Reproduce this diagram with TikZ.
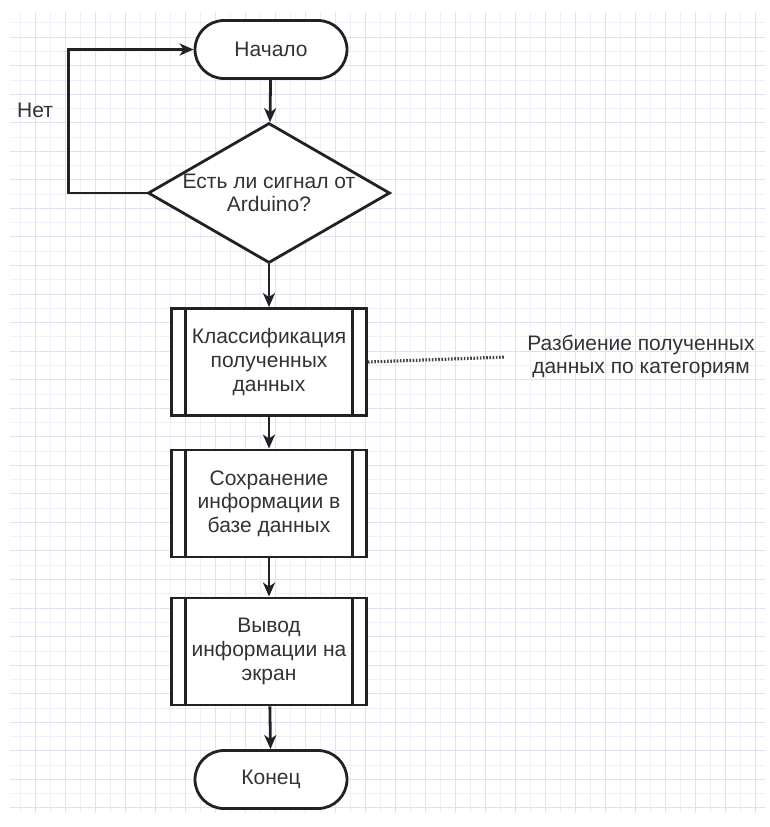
\documentclass[tikz,border=0pt]{standalone}
\usepackage{fontspec}
\setmainfont{Liberation Sans}
\usepackage{xcolor}
\usepackage{tikz}
\usetikzlibrary{arrows.meta,shapes.geometric}
\definecolor{ink}{HTML}{222222}
\definecolor{txt}{HTML}{333333}
\definecolor{gridc}{HTML}{E0E2F0}
\definecolor{gridf}{HTML}{EEEFF7}
\tikzset{
  base/.style={draw=ink,line width=1.4pt,fill=white,text=txt,align=center,font=\fontsize{10.5pt}{11.8pt}\selectfont},
  term/.style={base,rectangle,rounded corners=14.5pt,minimum width=76pt,minimum height=29pt},
  dec/.style={base,diamond,inner sep=0pt,minimum width=121pt,minimum height=70pt},
  proc/.style={base,rectangle,minimum width=97.5pt,minimum height=53.5pt,inner sep=1pt},
  arr/.style={draw=ink,line width=1.4pt,-{Stealth[length=7pt,width=6pt,inset=2pt]}},
  ins/.style={draw=ink,line width=1.4pt},
  dots/.style={draw=ink!85,line width=1.6pt,dash pattern=on 0.8pt off 0.8pt,shorten >=8pt},
  lbl/.style={text=txt,align=center,font=\fontsize{10.5pt}{11.8pt}\selectfont},
  gmaj/.style={draw=gridc,line width=0.5pt},
  gmin/.style={draw=gridf,line width=0.4pt}
}
\newcommand{\sidebars}[1]{%
  \draw[ins] ([xshift=7.75pt]#1.north west) -- ([xshift=7.75pt]#1.south west);
  \draw[ins] ([xshift=-7.75pt]#1.north east) -- ([xshift=-7.75pt]#1.south east);}

\begin{document}
\begin{tikzpicture}[x=0.5pt,y=-0.5pt]
\useasboundingbox (0,0) rectangle (770,827);
% grid paper
\begin{scope}
\clip (10,12) rectangle (765,812);
\foreach \gx in {20,50,...,770} \draw[gmin] (\gx,0) -- (\gx,827);
\foreach \k in {0,...,28} \draw[gmin] (0,{22.8+28.55*\k}) -- (770,{22.8+28.55*\k});
\foreach \gx in {5,35,...,765} \draw[gmaj] (\gx,0) -- (\gx,827);
\foreach \k in {0,...,28} \draw[gmaj] (0,{8.5+28.55*\k}) -- (770,{8.5+28.55*\k});
\end{scope}
% flowchart
\node[term] (start) at (271,49.5) {Начало};
\node[dec] (cond) at (269,193) {\makebox[0pt]{Есть ли сигнал от}\\\makebox[0pt]{Arduino?}};
\node[proc] (classify) at (269,362) {Классификация\\полученных\\данных};
\node[proc] (save) at (269,503.5) {Сохранение\\информации в\\базе данных};
\node[proc] (show) at (269,651.5) {Вывод\\информации на\\экран};
\node[term] (stop) at (271,779.5) {Конец};
\sidebars{classify} \sidebars{save} \sidebars{show}
\node[lbl] (remark) at (641,356.5) {Разбиение полученных\\данных по категориям};
\node[lbl] (no) at (35,110) {Нет};
\draw[arr] (start) -- (cond);
\draw[arr] (cond.west) -- ++(-78,0) |- (start.west);
\draw[arr] (cond) -- (classify);
\draw[arr] (classify) -- (save);
\draw[arr] (save) -- (show);
\draw[arr] (show) -- (stop);
\draw[dots] (classify.east) -- (remark.west);
\end{tikzpicture}
\end{document}
